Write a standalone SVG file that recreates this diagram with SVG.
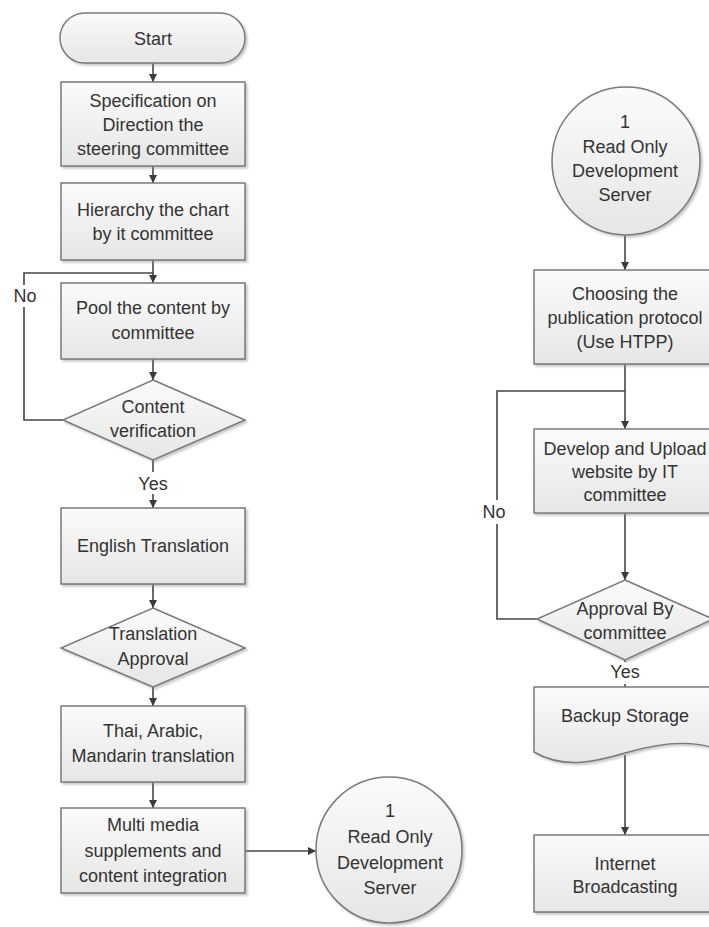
<svg xmlns="http://www.w3.org/2000/svg" width="709" height="927" viewBox="0 0 709 927">
<defs>
<linearGradient id="g" x1="0" y1="0" x2="0" y2="1">
<stop offset="0" stop-color="#fbfbfb"/>
<stop offset="1" stop-color="#e6e6e6"/>
</linearGradient>
<filter id="sh" x="-10%" y="-10%" width="130%" height="130%">
<feDropShadow dx="2" dy="2" stdDeviation="1.2" flood-color="#888" flood-opacity="0.45"/>
</filter>
<marker id="arr" viewBox="0 0 10 10" refX="10" refY="5" markerWidth="8" markerHeight="8" markerUnits="userSpaceOnUse" orient="auto">
<path d="M0,0 L10,5 L0,10 z" fill="#3a3a3a"/>
</marker>
<style>
.s{fill:url(#g);stroke:#7a7a7a;stroke-width:1.5;filter:url(#sh)}
.t{font-family:"Liberation Sans",Arial,sans-serif;font-size:18px;fill:#333;text-anchor:middle}
.c{fill:none;stroke:#454545;stroke-width:1.6}
.a{marker-end:url(#arr)}
.bg{fill:#fff}
</style>
</defs>
<rect width="709" height="927" fill="#fff"/>
<g id="connectors">
<line class="c a" x1="153" y1="63" x2="153" y2="82"/>
<line class="c a" x1="153" y1="166" x2="153" y2="183"/>
<line class="c a" x1="153" y1="260" x2="153" y2="283"/>
<line class="c a" x1="153" y1="359" x2="153" y2="380"/>
<path class="c" d="M63,420 H24 V273 H153"/>
<line class="c a" x1="153" y1="460" x2="153" y2="508"/>
<line class="c a" x1="153" y1="584" x2="153" y2="608"/>
<line class="c a" x1="153" y1="687" x2="153" y2="706"/>
<line class="c a" x1="153" y1="782" x2="153" y2="808"/>
<line class="c a" x1="245" y1="851" x2="316" y2="851"/>
<line class="c a" x1="625" y1="236" x2="625" y2="270"/>
<line class="c a" x1="625" y1="364" x2="625" y2="429"/>
<line class="c a" x1="625" y1="513" x2="625" y2="580"/>
<path class="c" d="M537,619 H497 V391 H625"/>
<line class="c" x1="625" y1="660" x2="625" y2="687"/>
<line class="c a" x1="625" y1="755" x2="625" y2="835"/>
<rect class="bg" x="10" y="285" width="30" height="22"/>
<text class="t" x="25" y="302">No</text>
<rect class="bg" x="136" y="472" width="34" height="22"/>
<text class="t" x="153" y="490">Yes</text>
<rect class="bg" x="479" y="500" width="30" height="24"/>
<text class="t" x="494" y="518">No</text>
<rect class="bg" x="608" y="662" width="34" height="22"/>
<text class="t" x="625" y="678">Yes</text>
</g>
<g id="start">
<rect class="s" x="60" y="13" width="185" height="50" rx="25" ry="25"/>
<text class="t" x="153" y="45">Start</text>
</g>
<g id="spec">
<rect class="s" x="61" y="82" width="184" height="84"/>
<text class="t" x="153" y="107">Specification on</text>
<text class="t" x="153" y="131">Direction the</text>
<text class="t" x="153" y="155">steering committee</text>
</g>
<g id="hierarchy">
<rect class="s" x="61" y="183" width="184" height="77"/>
<text class="t" x="153" y="216">Hierarchy the chart</text>
<text class="t" x="153" y="240">by it committee</text>
</g>
<g id="pool">
<rect class="s" x="61" y="283" width="184" height="76"/>
<text class="t" x="153" y="314">Pool the content by</text>
<text class="t" x="153" y="339">committee</text>
</g>
<g id="verify">
<path class="s" d="M153,380 L245,420 L153,460 L63,420 z"/>
<text class="t" x="153" y="413">Content</text>
<text class="t" x="153" y="437">verification</text>
</g>
<g id="english">
<rect class="s" x="61" y="508" width="184" height="76"/>
<text class="t" x="153" y="552">English Translation</text>
</g>
<g id="transapproval">
<path class="s" d="M153,608 L245,648 L153,687 L61,648 z"/>
<text class="t" x="153" y="640">Translation</text>
<text class="t" x="153" y="665">Approval</text>
</g>
<g id="thai">
<rect class="s" x="61" y="706" width="184" height="76"/>
<text class="t" x="153" y="737">Thai, Arabic,</text>
<text class="t" x="153" y="762">Mandarin translation</text>
</g>
<g id="multi">
<rect class="s" x="61" y="808" width="184" height="85"/>
<text class="t" x="153" y="831">Multi media</text>
<text class="t" x="153" y="857">supplements and</text>
<text class="t" x="153" y="882">content integration</text>
</g>
<g id="server1">
<circle class="s" cx="389" cy="850" r="73"/>
<text class="t" x="390" y="817">1</text>
<text class="t" x="390" y="843">Read Only</text>
<text class="t" x="390" y="869">Development</text>
<text class="t" x="390" y="894">Server</text>
</g>
<g id="server2">
<circle class="s" cx="626" cy="161" r="74"/>
<text class="t" x="625" y="128">1</text>
<text class="t" x="625" y="153">Read Only</text>
<text class="t" x="625" y="177">Development</text>
<text class="t" x="625" y="201">Server</text>
</g>
<g id="choosing">
<rect class="s" x="534" y="270" width="185" height="94"/>
<text class="t" x="625" y="300">Choosing the</text>
<text class="t" x="625" y="324">publication protocol</text>
<text class="t" x="625" y="348">(Use HTPP)</text>
</g>
<g id="develop">
<rect class="s" x="534" y="429" width="185" height="84"/>
<text class="t" x="625" y="455">Develop and Upload</text>
<text class="t" x="625" y="478">website by IT</text>
<text class="t" x="625" y="501">committee</text>
</g>
<g id="approval">
<path class="s" d="M625,580 L713,619 L625,660 L537,619 z"/>
<text class="t" x="625" y="615">Approval By</text>
<text class="t" x="625" y="639">committee</text>
</g>
<g id="backup">
<path class="s" d="M534,687 H719 V750 C690,738 655,744 625,753 C598,761 565,770 534,752 z"/>
<text class="t" x="625" y="722">Backup Storage</text>
</g>
<g id="internet">
<rect class="s" x="534" y="835" width="185" height="77"/>
<text class="t" x="625" y="870">Internet</text>
<text class="t" x="625" y="893">Broadcasting</text>
</g>
</svg>
